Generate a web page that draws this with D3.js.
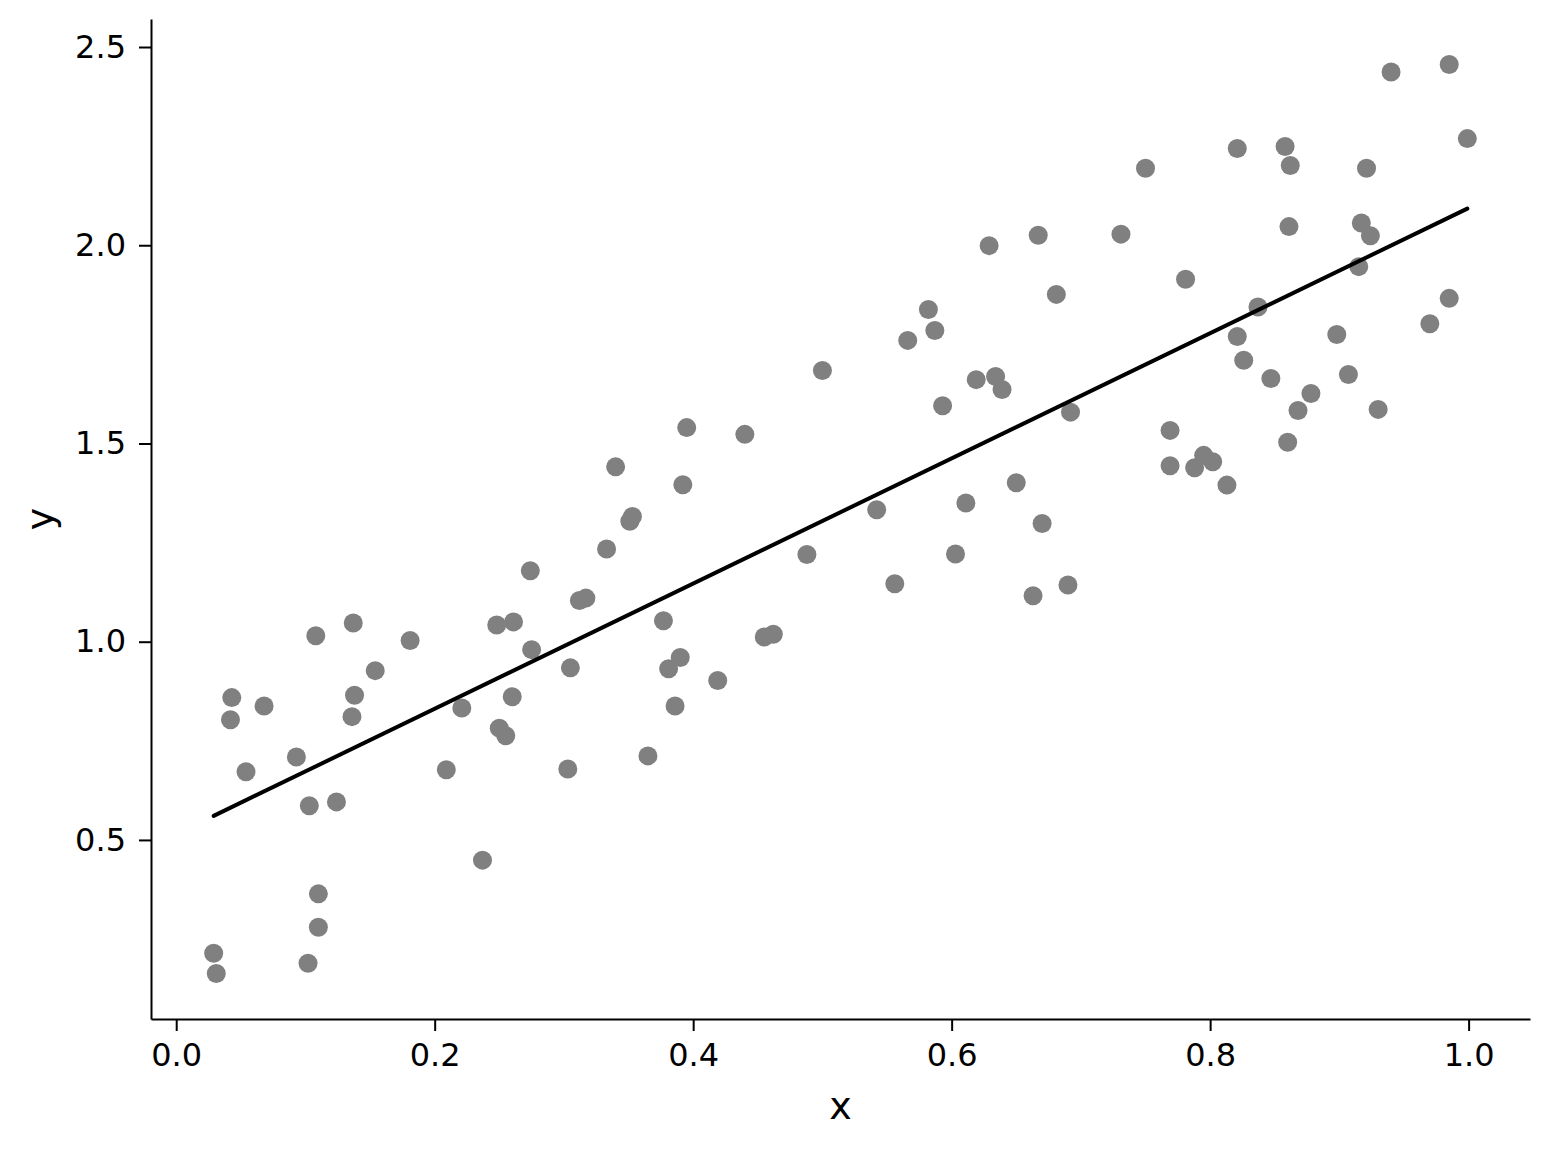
<!DOCTYPE html>
<html>
<head>
<meta charset="utf-8">
<script src="https://cdn.jsdelivr.net/npm/d3@7"></script>
<style>
  body { margin: 0; background: #fff; }
  svg { display: block; font-family: "DejaVu Sans", sans-serif; }
</style>
</head>
<body>
<div id="chart"></div>
<script>
// scatter points
const xs = [0.029, 0.031, 0.102, 0.110, 0.110, 0.103, 0.124, 0.093, 0.054, 0.042,
            0.043, 0.068, 0.108, 0.137, 0.138, 0.136, 0.154, 0.181, 0.209, 0.221,
            0.237, 0.248, 0.250, 0.255, 0.261, 0.260, 0.274, 0.275, 0.303, 0.305,
            0.312, 0.317, 0.333, 0.340, 0.351, 0.353, 0.365, 0.377, 0.381, 0.386,
            0.390, 0.392, 0.395, 0.419, 0.440, 0.455, 0.462, 0.488, 0.500, 0.542,
            0.556, 0.566, 0.582, 0.587, 0.593, 0.603, 0.611, 0.619, 0.629, 0.634,
            0.639, 0.650, 0.663, 0.667, 0.670, 0.681, 0.690, 0.692, 0.731, 0.750,
            0.769, 0.769, 0.781, 0.788, 0.795, 0.802, 0.813, 0.821, 0.821, 0.826,
            0.837, 0.847, 0.858, 0.860, 0.862, 0.861, 0.868, 0.878, 0.898, 0.907,
            0.915, 0.917, 0.921, 0.924, 0.930, 0.940, 0.970, 0.985, 0.985, 0.999];
const ys = [0.214, 0.163, 0.189, 0.364, 0.280, 0.586, 0.596, 0.709, 0.672, 0.803,
            0.859, 0.838, 1.015, 1.047, 0.865, 0.811, 0.927, 1.003, 0.677, 0.833,
            0.449, 1.042, 0.782, 0.763, 1.050, 0.861, 1.179, 0.980, 0.679, 0.934,
            1.104, 1.110, 1.234, 1.441, 1.304, 1.316, 0.712, 1.053, 0.932, 0.838,
            0.960, 1.396, 1.540, 0.902, 1.523, 1.012, 1.019, 1.220, 1.684, 1.333,
            1.146, 1.760, 1.838, 1.785, 1.595, 1.221, 1.350, 1.661, 1.999, 1.669,
            1.636, 1.401, 1.116, 2.025, 1.298, 1.876, 1.143, 1.579, 2.028, 2.194,
            1.533, 1.444, 1.914, 1.439, 1.470, 1.454, 1.395, 2.244, 1.770, 1.710,
            1.844, 1.664, 2.249, 1.503, 2.201, 2.047, 1.583, 1.626, 1.775, 1.674,
            1.946, 2.056, 2.194, 2.024, 1.586, 2.437, 1.802, 2.456, 1.866, 2.269];

// fitted line y = a + b x
const fitIntercept = 0.515;
const fitSlope = 1.579;

const xTicks = [0.0, 0.2, 0.4, 0.6, 0.8, 1.0];
const yTicks = [0.5, 1.0, 1.5, 2.0, 2.5];

const W = 1550, H = 1150;
const margin = { top: 19, right: 20, bottom: 131, left: 151 };
const width = W - margin.left - margin.right,
      height = H - margin.top - margin.bottom;

const svg = d3.select("#chart").append("svg")
    .attr("width", W)
    .attr("height", H);

const g = svg.append("g")
    .attr("transform", `translate(${margin.left},${margin.top})`);

// matplotlib style 5% padding around the data
const xExt = d3.extent(xs), yExt = d3.extent(ys);
const xPad = (xExt[1] - xExt[0]) * 0.05, yPad = (yExt[1] - yExt[0]) * 0.05;

const x = d3.scaleLinear()
    .domain([xExt[0] - xPad, xExt[1] + xPad])
    .range([0, width]);
const y = d3.scaleLinear()
    .domain([yExt[0] - yPad, yExt[1] + yPad])
    .range([height, 0]);

const points = xs.map((v, i) => ({ x: v, y: ys[i] }));

g.selectAll("circle.pt")
    .data(points)
    .join("circle")
    .attr("class", "pt")
    .attr("cx", d => x(d.x))
    .attr("cy", d => y(d.y))
    .attr("r", 9.5)
    .attr("fill", "#808080");

// regression line across the data range
const lineData = xExt.map(v => ({ x: v, y: fitIntercept + fitSlope * v }));
g.append("path")
    .datum(lineData)
    .attr("d", d3.line().x(d => x(d.x)).y(d => y(d.y)))
    .attr("fill", "none")
    .attr("stroke", "#000")
    .attr("stroke-width", 4)
    .attr("stroke-linecap", "round");

//Axes
const xAxis = g.append("g")
    .attr("transform", `translate(0,${height})`)
    .call(d3.axisBottom(x).tickValues(xTicks).tickFormat(d3.format(".1f"))
        .tickSizeInner(12).tickSizeOuter(0).tickPadding(12));

const yAxis = g.append("g")
    .call(d3.axisLeft(y).tickValues(yTicks).tickFormat(d3.format(".1f"))
        .tickSizeInner(12).tickSizeOuter(0).tickPadding(13));

[xAxis, yAxis].forEach(a => {
    a.select(".domain").attr("stroke", "#000").attr("stroke-width", 2);
    a.selectAll(".tick line").attr("stroke", "#000").attr("stroke-width", 2);
    a.selectAll(".tick text")
        .attr("fill", "#000")
        .style("font-size", "32px")
        .style("font-family", "DejaVu Sans");
});

g.append("text")
    .attr("x", width / 2)
    .attr("y", height + 100)
    .attr("text-anchor", "middle")
    .style("font-size", "38px")
    .text("x");

g.append("text")
    .attr("transform", `translate(${-98},${height / 2}) rotate(-90)`)
    .attr("text-anchor", "middle")
    .style("font-size", "38px")
    .text("y");
</script>
</body>
</html>
